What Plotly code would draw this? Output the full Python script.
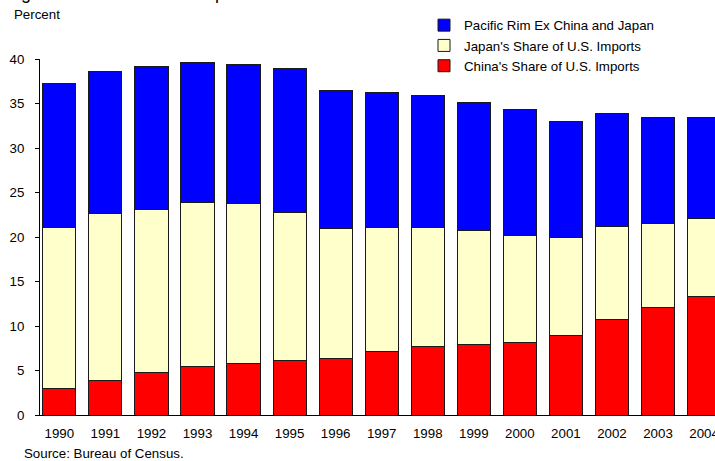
import plotly.graph_objects as go

years = ["1990", "1991", "1992", "1993", "1994", "1995", "1996", "1997",
         "1998", "1999", "2000", "2001", "2002", "2003", "2004"]
china = [3.0, 3.9, 4.8, 5.4, 5.8, 6.1, 6.4, 7.1, 7.7, 7.9, 8.1, 8.9, 10.7, 12.1, 13.3]
japan = [18.1, 18.7, 18.3, 18.5, 18.0, 16.6, 14.5, 14.0, 13.4, 12.8, 12.1, 11.1, 10.5, 9.4, 8.8]
pacific = [16.1, 16.0, 16.1, 15.7, 15.6, 16.2, 15.6, 15.15, 14.8, 14.4, 14.1, 13.0, 12.7, 11.9, 11.3]
y_ticks = [0, 5, 10, 15, 20, 25, 30, 35, 40]

FONT = "Liberation Sans, Arial, sans-serif"
W, H = 715, 461
ML, MR, MT, MB = 40, 0, 59, 46
pw = W - ML - MR
ph = H - MT - MB

fig = go.Figure()
series = [
    ("China's Share of U.S. Imports", china, "#FF0000"),
    ("Japan's Share of U.S. Imports", japan, "#FFFFCC"),
    ("Pacific Rim Ex China and Japan", pacific, "#0000FF"),
]
for name, vals, col in series:
    fig.add_trace(go.Bar(
        x=years, y=vals, name=name,
        marker=dict(color=col, line=dict(color="#1a1a1a", width=1)),
    ))

fig.update_layout(
    width=W, height=H,
    margin=dict(l=ML, r=MR, t=MT, b=MB, pad=0, autoexpand=False),
    barmode="stack", bargap=0.28,
    plot_bgcolor="white", paper_bgcolor="white",
    font=dict(family=FONT, size=13.3, color="#000"),
    showlegend=True,
    legend=dict(
        x=(424 - ML) / pw, xanchor="left",
        y=1 + (MT - 10) / ph, yanchor="top",
        traceorder="reversed",
        font=dict(family=FONT, size=13.3, color="#000"),
        bgcolor="rgba(0,0,0,0)",
        itemwidth=30,
        tracegroupgap=0,
    ),
    xaxis=dict(
        type="category", automargin=False,
        range=[-0.42, -0.42 + pw / 46.05],
        showline=True, linecolor="#000", linewidth=1,
        ticks="", showgrid=False, zeroline=False,
        ticklabelstandoff=6,
        tickfont=dict(family=FONT, size=13.3, color="#000"),
    ),
    yaxis=dict(
        range=[0, 40], automargin=False,
        tickvals=y_ticks,
        showline=True, linecolor="#000", linewidth=1,
        ticks="outside", ticklen=4, tickcolor="#000",
        showgrid=False, zeroline=False,
        ticklabelstandoff=8,
        tickfont=dict(family=FONT, size=13.3, color="#000"),
    ),
    annotations=[
        dict(text="Percent", xref="paper", yref="paper",
             x=(12 - ML) / pw, xanchor="left",
             y=1 + (MT - 14) / ph, yanchor="middle",
             showarrow=False, font=dict(family=FONT, size=13.3, color="#000")),
        dict(text="Source: Bureau of Census.", xref="paper", yref="paper",
             x=(22 - ML) / pw, xanchor="left",
             y=-(453 - (MT + ph)) / ph, yanchor="middle",
             showarrow=False, font=dict(family=FONT, size=13.3, color="#000")),
        dict(text="Figure 2: Share of U.S. Imports", xref="paper", yref="paper",
             x=(4 - ML) / pw, xanchor="left",
             y=1 + (MT - 5) / ph, yanchor="bottom",
             showarrow=False, font=dict(family=FONT, size=18, color="#000")),
    ],
)

fig.write_html("out.html")
